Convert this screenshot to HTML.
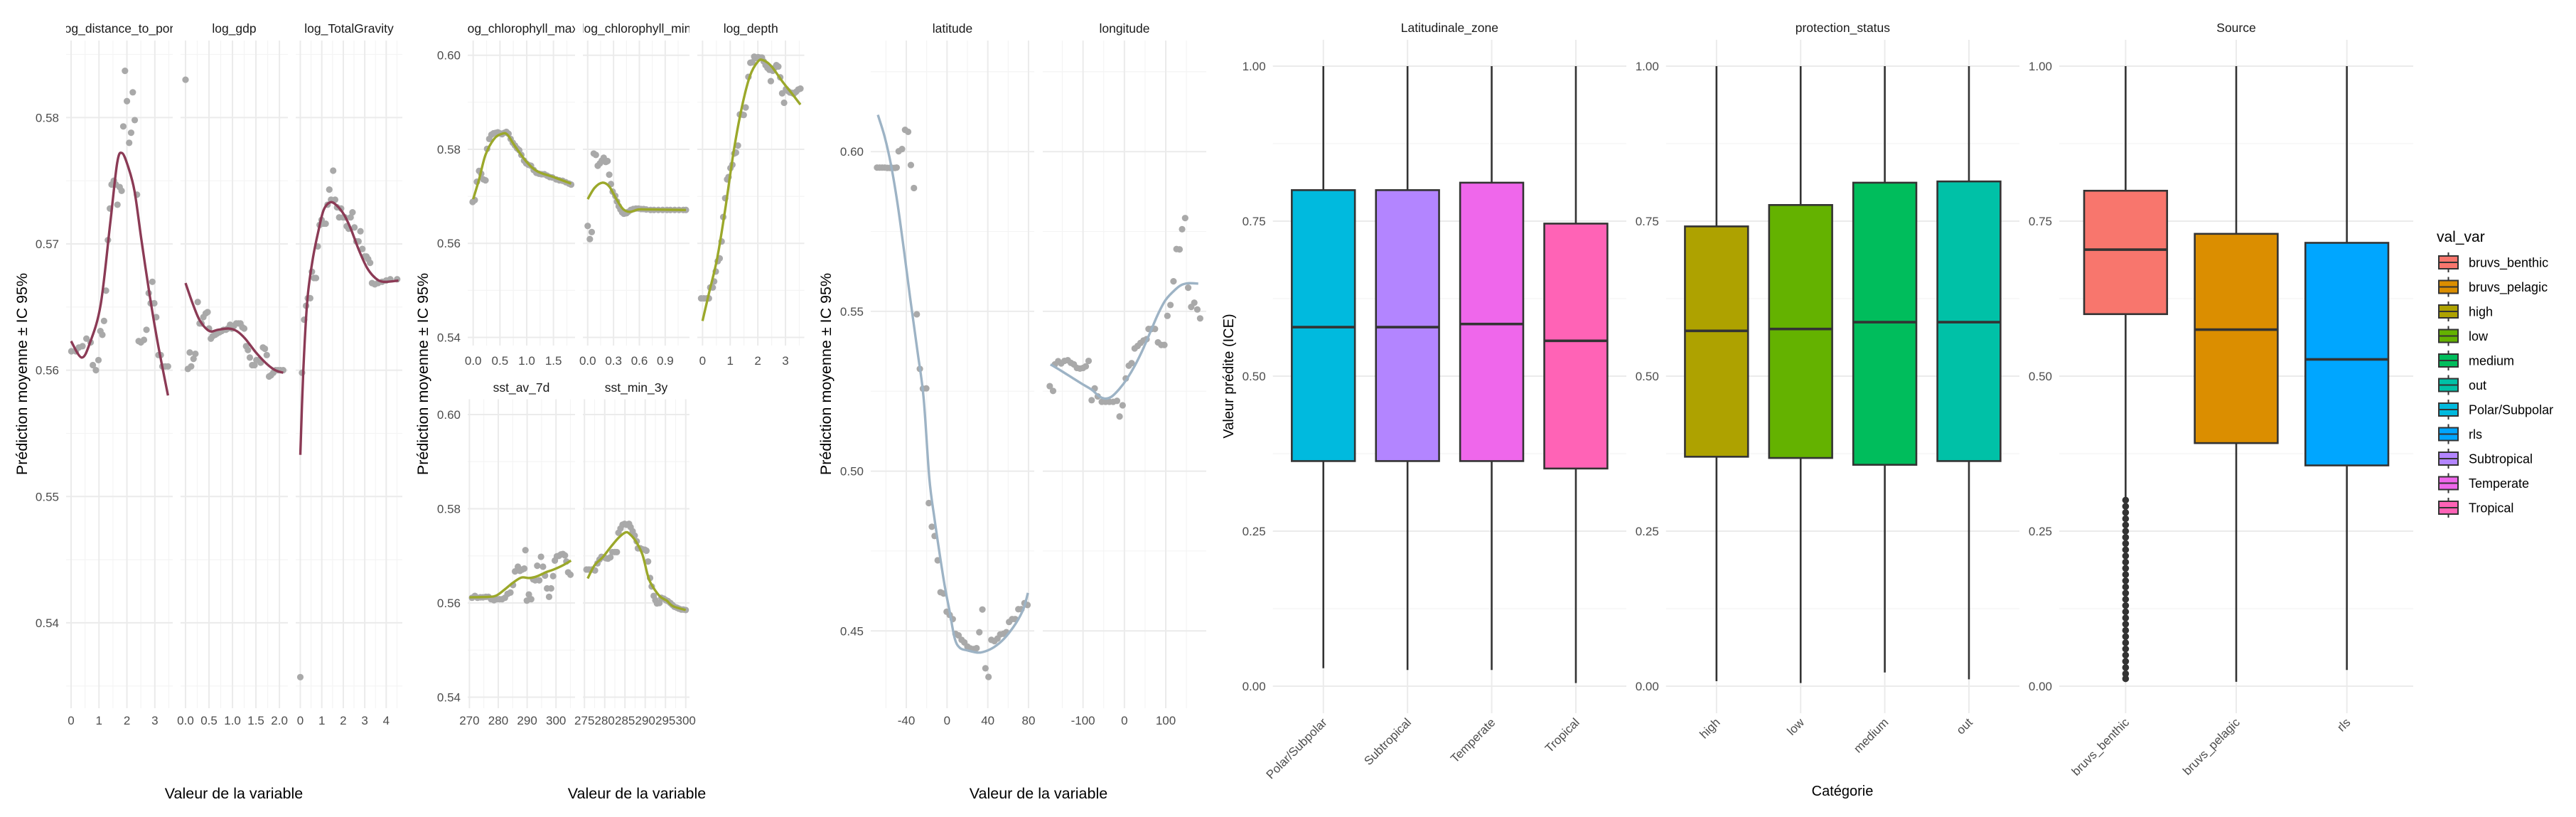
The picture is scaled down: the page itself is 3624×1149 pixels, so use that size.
<!DOCTYPE html>
<html>
<head>
<meta charset="utf-8">
<style>
html,body{margin:0;padding:0;background:#fff;}
svg{display:block;font-family:"Liberation Sans",Arial,sans-serif;}
</style>
</head>
<body>
<svg id="chart" width="3624" height="1149" viewBox="0 0 3624 1149" xmlns="http://www.w3.org/2000/svg">
<rect x="0" y="0" width="3624" height="1149" fill="#ffffff"/>
<g id="layer"></g>
</svg>
<script>
// ---------- DATA ----------
const distPortX = [0.01,0.17,0.28,0.41,0.55,0.70,0.78,0.89,0.98,1.05,1.12,1.18,1.25,1.32,1.39,1.45,1.53,1.60,1.66,1.74,1.81,1.87,1.93,2.00,2.08,2.15,2.21,2.28,2.36,2.42,2.50,2.61,2.70,2.78,2.85,2.91,2.98,3.05,3.13,3.21,3.27,3.37,3.47];
const distPortY = [0.5615,0.5615,0.5618,0.5619,0.5625,0.5622,0.5604,0.5600,0.5608,0.5631,0.5628,0.5639,0.5663,0.5703,0.5728,0.5747,0.5750,0.5747,0.5731,0.5745,0.5742,0.5793,0.5837,0.5813,0.5780,0.5788,0.5820,0.5798,0.5739,0.5623,0.5622,0.5624,0.5632,0.5661,0.5653,0.5670,0.5653,0.5642,0.5612,0.5612,0.5603,0.5603,0.5603];
const distPortLineX = [0,0.38,0.68,1.06,1.40,1.65,1.82,2.03,2.27,2.52,2.81,3.10,3.47];
const distPortLineY = [0.5623,0.5610,0.5622,0.5652,0.5716,0.5764,0.5772,0.5762,0.5742,0.5703,0.5660,0.5622,0.5580];

const gdpX = [0.0,0.05,0.09,0.12,0.17,0.21,0.26,0.30,0.34,0.38,0.43,0.47,0.50,0.54,0.58,0.63,0.67,0.72,0.77,0.81,0.86,0.90,0.95,0.99,1.03,1.08,1.13,1.17,1.21,1.25,1.29,1.33,1.37,1.42,1.47,1.51,1.56,1.60,1.65,1.69,1.73,1.78,1.82,1.87,1.92,1.97,2.02,2.08];
const gdpY = [0.583,0.5601,0.5614,0.5603,0.5609,0.5613,0.5654,0.5637,0.5637,0.5642,0.5645,0.5646,0.5633,0.5625,0.5627,0.5628,0.5629,0.5630,0.5631,0.5632,0.5632,0.5633,0.5636,0.5633,0.5635,0.5637,0.5637,0.5637,0.5634,0.5633,0.5619,0.5616,0.5610,0.5604,0.5604,0.5608,0.5608,0.5606,0.5618,0.5617,0.5612,0.5595,0.5596,0.5598,0.5600,0.5600,0.5600,0.5600];
const gdpLineX = [0,0.16,0.31,0.51,0.69,0.92,1.09,1.27,1.50,1.73,1.91,2.08];
const gdpLineY = [0.5669,0.5652,0.5639,0.5631,0.5632,0.5633,0.5631,0.5625,0.5614,0.5605,0.5600,0.5598];

const gravX = [0,0.08,0.18,0.27,0.35,0.46,0.54,0.64,0.73,0.81,0.90,0.99,1.09,1.18,1.27,1.35,1.43,1.53,1.62,1.71,1.81,1.90,1.99,2.08,2.16,2.25,2.34,2.43,2.52,2.61,2.71,2.80,2.89,2.99,3.08,3.16,3.25,3.34,3.47,3.62,3.81,4.00,4.19,4.51];
const gravY = [0.5357,0.5598,0.5640,0.5651,0.5657,0.5657,0.5678,0.5673,0.5673,0.5698,0.5715,0.5719,0.5716,0.5716,0.5731,0.5743,0.5735,0.5758,0.5735,0.5729,0.5721,0.5728,0.5721,0.5721,0.5714,0.5712,0.5721,0.5725,0.5713,0.5702,0.5702,0.5710,0.5696,0.5690,0.5690,0.5688,0.5685,0.5669,0.5668,0.5669,0.5670,0.5671,0.5672,0.5672];
const gravLineX = [0,0.14,0.33,0.58,0.84,1.09,1.41,1.72,2.04,2.35,2.73,3.11,3.49,3.87,4.57];
const gravLineY = [0.5533,0.5600,0.5656,0.5688,0.5710,0.5727,0.5733,0.5730,0.5723,0.5712,0.5695,0.5681,0.5673,0.5670,0.5671];

const chlMaxX = [-0.01,0.03,0.07,0.11,0.15,0.19,0.23,0.26,0.30,0.34,0.38,0.42,0.46,0.50,0.54,0.58,0.62,0.66,0.70,0.74,0.78,0.82,0.86,0.90,0.95,0.99,1.03,1.08,1.13,1.18,1.23,1.28,1.33,1.38,1.43,1.48,1.55,1.61,1.67,1.73,1.79,1.83];
const chlMaxY = [0.5688,0.5692,0.5731,0.5754,0.5748,0.5736,0.5734,0.5801,0.5822,0.5831,0.5834,0.5835,0.5836,0.5834,0.5832,0.5835,0.5837,0.5833,0.5822,0.5814,0.5808,0.5802,0.5798,0.5788,0.5776,0.5770,0.5767,0.5765,0.5756,0.5750,0.5748,0.5747,0.5747,0.5744,0.5741,0.5740,0.5736,0.5734,0.5733,0.5730,0.5727,0.5725];
const chlMaxLineX = [0,0.11,0.23,0.39,0.54,0.64,0.79,1.0,1.2,1.5,1.83];
const chlMaxLineY = [0.5694,0.5736,0.5788,0.5822,0.5833,0.5831,0.5805,0.5773,0.5753,0.5741,0.5727];

const chlMinX = [0,0.025,0.047,0.07,0.095,0.117,0.142,0.164,0.186,0.21,0.23,0.25,0.27,0.29,0.32,0.34,0.36,0.38,0.40,0.42,0.45,0.47,0.50,0.53,0.56,0.59,0.62,0.65,0.68,0.73,0.77,0.82,0.87,0.92,0.96,1.01,1.06,1.11,1.14];
const chlMinY = [0.5637,0.5609,0.5624,0.5791,0.5788,0.5765,0.5770,0.5776,0.5782,0.5773,0.5775,0.5746,0.5726,0.5710,0.5701,0.5689,0.5679,0.5672,0.5666,0.5663,0.5664,0.5667,0.5671,0.5673,0.5674,0.5674,0.5673,0.5673,0.5672,0.5671,0.5671,0.5671,0.5671,0.5671,0.5671,0.5671,0.5671,0.5671,0.5671];
const chlMinLineX = [0,0.08,0.17,0.25,0.33,0.41,0.49,0.59,0.71,1.14];
const chlMinLineY = [0.5694,0.5718,0.5729,0.5721,0.5695,0.5673,0.5667,0.5672,0.5672,0.5671];

const depthX = [-0.05,0.05,0.15,0.23,0.28,0.37,0.42,0.48,0.55,0.62,0.69,0.75,0.82,0.89,0.94,1.01,1.08,1.15,1.21,1.28,1.35,1.42,1.49,1.56,1.66,1.73,1.80,1.87,1.94,2.01,2.08,2.15,2.21,2.28,2.35,2.42,2.47,2.54,2.60,2.67,2.74,2.81,2.88,2.95,3.02,3.09,3.16,3.23,3.30,3.38,3.46,3.54];
const depthY = [0.5483,0.5483,0.5483,0.5483,0.5506,0.5506,0.5519,0.5540,0.5562,0.5568,0.5604,0.5656,0.5696,0.5736,0.5741,0.5760,0.5767,0.5791,0.5793,0.5808,0.5874,0.5874,0.5873,0.5889,0.5954,0.5984,0.5985,0.5997,0.5994,0.5996,0.5995,0.5995,0.5987,0.5979,0.5973,0.5969,0.5945,0.5967,0.5973,0.5979,0.5976,0.5953,0.5919,0.5899,0.5928,0.5924,0.5921,0.5920,0.5918,0.5922,0.5927,0.5929];
const depthLineX = [0,0.23,0.53,0.82,1.12,1.41,1.71,2.01,2.21,2.5,2.89,3.24,3.54];
const depthLineY = [0.5435,0.5493,0.5568,0.5672,0.5793,0.5886,0.5955,0.5987,0.5989,0.5976,0.5944,0.5918,0.5895];

const sstAvX = [270.9,271.9,272.8,273.8,274.7,275.7,276.6,277.5,278.5,279.4,280.4,281.3,282.3,283.2,284.2,285.1,285.8,286.8,287.5,288.3,289.0,289.4,289.9,290.6,291.4,292.1,292.8,293.5,294.2,294.8,295.5,296.2,296.9,297.6,298.3,299.0,299.6,300.3,301.0,301.7,302.4,303.1,303.6,304.2,305.0];
const sstAvY = [0.5611,0.5615,0.5611,0.5612,0.5612,0.5613,0.5613,0.5608,0.5606,0.5608,0.5608,0.5608,0.5611,0.5619,0.5622,0.5638,0.5667,0.5677,0.5668,0.5671,0.5673,0.5712,0.5605,0.5618,0.5608,0.5650,0.5648,0.5679,0.5648,0.5698,0.5677,0.5658,0.5631,0.5613,0.5631,0.5657,0.5690,0.5699,0.5700,0.5703,0.5704,0.5701,0.5688,0.5665,0.5660];
const sstAvLineX = [270,276.6,279.4,282.3,285.1,288.0,290.8,293.6,296.4,299.2,302.1,305.2];
const sstAvLineY = [0.5612,0.5613,0.5616,0.5629,0.5643,0.5654,0.5653,0.5657,0.5665,0.5671,0.5679,0.5690];

const sstMinX = [275.5,276.1,276.8,277.6,278.2,278.7,279.2,279.8,280.3,280.8,281.4,281.9,282.5,283.0,283.4,283.9,284.4,284.9,285.4,286.0,286.4,286.9,287.4,287.9,288.2,288.8,289.3,289.9,290.3,290.7,291.2,291.6,292.1,292.5,292.9,293.5,294.0,294.6,295.1,295.6,296.2,296.7,297.2,297.8,298.3,298.9,299.4,300.0];
const sstMinY = [0.5671,0.5671,0.5671,0.5669,0.5684,0.5692,0.5698,0.5697,0.5695,0.5694,0.5697,0.5708,0.5708,0.5708,0.5749,0.5758,0.5766,0.5768,0.5766,0.5768,0.5761,0.5752,0.5743,0.5731,0.5716,0.5716,0.5714,0.5713,0.5711,0.5688,0.5653,0.5635,0.5615,0.5606,0.5599,0.5600,0.5611,0.5609,0.5606,0.5604,0.5600,0.5596,0.5592,0.5590,0.5588,0.5586,0.5586,0.5585];
const sstMinLineX = [275.8,277.5,279.5,281.5,283.5,285.2,286.2,287.6,289.3,290.9,292.6,293.9,295.3,296.9,300.0];
const sstMinLineY = [0.5652,0.5680,0.5697,0.5719,0.5739,0.5750,0.5746,0.5732,0.5703,0.5651,0.5625,0.5612,0.5605,0.5593,0.5585];

const latX = [-68.7,-66.2,-63.7,-61.2,-58.7,-56.2,-53.7,-51.2,-49.5,-47.5,-44.2,-41.2,-38.2,-35.5,-32.5,-29.7,-26.7,-23.7,-20.4,-17.9,-14.9,-12.2,-9.2,-6.4,-3.4,-0.4,2.6,5.6,8.3,11.3,14.3,17.0,20.0,23.0,26.0,29.0,31.7,34.7,37.7,40.7,43.5,46.5,49.5,52.2,55.2,58.2,60.9,63.9,66.9,70.0,73.0,76.0,79.0];
const latY = [0.5950,0.5950,0.5950,0.5950,0.5949,0.5949,0.5949,0.5949,0.5950,0.6001,0.6008,0.6068,0.6062,0.5958,0.5886,0.5491,0.5320,0.5258,0.5259,0.4900,0.4826,0.4797,0.4721,0.4621,0.4617,0.4560,0.4550,0.4537,0.4491,0.4486,0.4472,0.4464,0.4451,0.4445,0.4443,0.4446,0.4496,0.4567,0.4383,0.4356,0.4472,0.4468,0.4476,0.4489,0.4491,0.4496,0.4528,0.4537,0.4537,0.4568,0.4568,0.4587,0.4581];
const latLineX = [-67.9,-61.2,-55,-48.7,-42.5,-36.3,-28.8,-23,-17.4,-12.4,-7.4,-2.4,2.6,7.6,12.6,20,31.2,40,48.7,57.5,67.4,74.9,79.4];
const latLineY = [0.6115,0.6046,0.5958,0.5839,0.5696,0.5544,0.5370,0.5229,0.4978,0.4853,0.4744,0.4643,0.4560,0.4476,0.4447,0.4439,0.4432,0.4439,0.4455,0.4481,0.4523,0.4568,0.4619];

const lonX = [-180.4,-172.4,-168.1,-160.1,-152.8,-144.8,-136.8,-129.5,-122.1,-114.7,-107.4,-100,-93.3,-86.5,-79.1,-71.8,-64.4,-54.6,-45.4,-36.2,-27,-17.8,-11.6,-4.3,3.3,10.7,17.5,24.8,32.2,38.9,46.3,53.6,58.5,65.9,73.9,81.2,89.2,96.6,104,111.3,118.7,126,133.4,139.5,146.9,154.2,161.6,169,176.3,183.1];
const lonY = [0.5266,0.5251,0.5334,0.5344,0.5337,0.5345,0.5347,0.5339,0.5334,0.5323,0.5321,0.5323,0.5328,0.5345,0.5222,0.5259,0.5234,0.5217,0.5217,0.5217,0.5217,0.5220,0.5171,0.5206,0.5290,0.5330,0.5338,0.5384,0.5392,0.5401,0.5409,0.5413,0.5445,0.5445,0.5445,0.5403,0.5395,0.5395,0.5486,0.5520,0.5594,0.5695,0.5694,0.5757,0.5792,0.5574,0.5514,0.5527,0.5506,0.5478];
const lonLineX = [-178.6,-152.8,-128.3,-103.7,-79.1,-60.7,-45.4,-30,-11.6,6.8,25.2,43.6,62,80.4,98.8,117.2,135.6,154,178.6];
const lonLineY = [0.5334,0.5314,0.5294,0.5274,0.5255,0.5234,0.5227,0.5234,0.5258,0.5290,0.5330,0.5378,0.5433,0.5489,0.5534,0.5561,0.5581,0.5588,0.5587];

// boxplots
const zoneCats = ['Polar/Subpolar','Subtropical','Temperate','Tropical'];
const zoneLo = [0.029,0.026,0.026,0.005];
const zoneQ1 = [0.363,0.363,0.363,0.351];
const zoneMed = [0.579,0.579,0.584,0.557];
const zoneQ3 = [0.800,0.800,0.812,0.746];
const zoneHi = [1.0,1.0,1.0,1.0];

const protCats = ['high','low','medium','out'];
const protLo = [0.008,0.005,0.022,0.011];
const protQ1 = [0.370,0.368,0.357,0.363];
const protMed = [0.573,0.576,0.587,0.587];
const protQ3 = [0.7415,0.776,0.812,0.814];
const protHi = [1.0,1.0,1.0,1.0];

const srcCats = ['bruvs_benthic','bruvs_pelagic','rls'];
const srcLo = [0.304,0.007,0.026];
const srcQ1 = [0.600,0.392,0.356];
const srcMed = [0.704,0.575,0.527];
const srcQ3 = [0.799,0.7295,0.715];
const srcHi = [1.0,1.0,1.0];
const benthicOutliers = [0.012,0.02,0.03,0.04,0.05,0.06,0.07,0.08,0.09,0.10,0.11,0.12,0.13,0.14,0.15,0.16,0.17,0.18,0.19,0.20,0.21,0.22,0.23,0.24,0.25,0.26,0.27,0.28,0.29,0.30];

const legendLabels = ['bruvs_benthic','bruvs_pelagic','high','low','medium','out','Polar/Subpolar','rls','Subtropical','Temperate','Tropical'];
const legendColors = ['#F8766D','#DB8E00','#AEA200','#64B200','#00BD5C','#00C1A7','#00BADE','#00A6FF','#B385FF','#EF67EB','#FF63B6'];

// ---------- DRAWING ----------
const NS = 'http://www.w3.org/2000/svg';
const layer = document.getElementById('layer');
const defs = document.createElementNS(NS,'defs');
layer.appendChild(defs);
let clipN = 0;

function mk(tag, attrs, parent){
  const el = document.createElementNS(NS, tag);
  for (const k in attrs) el.setAttribute(k, attrs[k]);
  (parent||layer).appendChild(el);
  return el;
}
function txt(s, attrs, parent){
  const t = mk('text', attrs, parent);
  t.textContent = s;
  return t;
}
function smoothPath(pts){
  if (pts.length < 2) return '';
  let d = 'M' + pts[0][0].toFixed(2) + ',' + pts[0][1].toFixed(2);
  for (let i=0;i<pts.length-1;i++){
    const p0 = pts[Math.max(0,i-1)], p1 = pts[i], p2 = pts[i+1], p3 = pts[Math.min(pts.length-1,i+2)];
    const c1x = p1[0] + (p2[0]-p0[0])/6, c1y = p1[1] + (p2[1]-p0[1])/6;
    const c2x = p2[0] - (p3[0]-p1[0])/6, c2y = p2[1] - (p3[1]-p1[1])/6;
    d += ' C' + c1x.toFixed(2)+','+c1y.toFixed(2)+' '+c2x.toFixed(2)+','+c2y.toFixed(2)+' '+p2[0].toFixed(2)+','+p2[1].toFixed(2);
  }
  return d;
}

const TICK = '#4D4D4D', GRID = '#EBEBEB', MINOR = '#F4F4F4';

function scatterFacet(c){
  const g = mk('g', {});
  
  
  const xs = v => c.x0 + (v - c.xd[0])/(c.xd[1]-c.xd[0])*(c.x1-c.x0);
  const ys = v => c.y1 - (v - c.yd[0])/(c.yd[1]-c.yd[0])*(c.y1-c.y0);
  c.yminor.forEach(v => mk('line',{x1:c.x0,x2:c.x1,y1:ys(v),y2:ys(v),stroke:MINOR,'stroke-width':1.2},g));
  c.xminor.forEach(v => mk('line',{x1:xs(v),x2:xs(v),y1:c.y0,y2:c.y1,stroke:MINOR,'stroke-width':1.2},g));
  c.yticks.forEach(v => mk('line',{x1:c.x0,x2:c.x1,y1:ys(v),y2:ys(v),stroke:GRID,'stroke-width':2},g));
  c.xticks.forEach(v => mk('line',{x1:xs(v),x2:xs(v),y1:c.y0,y2:c.y1,stroke:GRID,'stroke-width':2},g));
  const cid = 'clip' + (clipN++);
  const cp = mk('clipPath',{id:cid},defs);
  mk('rect',{x:c.x0,y:c.stripY-20,width:c.x1-c.x0,height:30},cp);
  const st = txt(c.title,{x:(c.x0+c.x1)/2,y:c.stripY+6,'text-anchor':'middle','font-size':17.5,fill:'#1A1A1A','clip-path':'url(#'+cid+')'},g);
  
  
  c.xticks.forEach((v,i) => {
    const t = txt(c.xlabels[i],{x:xs(v),y:c.xlabY+6,'text-anchor':'middle','font-size':17,fill:TICK},g);
    
    
  });
  if (c.ylabels){
    c.yticks.forEach((v,i) => {
      const t = txt(c.ylabels[i],{x:c.x0-10,y:ys(v)+6,'text-anchor':'end','font-size':17,fill:TICK},g);
      
      
    });
  }
  const n = Math.min(c.px.length, c.py.length);
  for (let i=0;i<n;i++){
    const p = mk('circle',{cx:xs(c.px[i]),cy:ys(c.py[i]),r:4.6,fill:'#A9A9A9'},g);
    
    
  }
  const m = Math.min(c.lx.length, c.ly.length);
  const pts = [];
  for (let i=0;i<m;i++) pts.push([xs(c.lx[i]), ys(c.ly[i])]);
  const ln = mk('path',{d:smoothPath(pts),fill:'none',stroke:c.color,'stroke-width':3.4,'stroke-linecap':'butt','stroke-linejoin':'round'},g);
  
  
}

// group 1
const g1Y = {y0:57,y1:996,yd:[0.53324,0.5861],yticks:[0.54,0.55,0.56,0.57,0.58],yminor:[0.535,0.545,0.555,0.565,0.575,0.585],stripY:40,xlabY:1013};
const C1 = '#8B3A55';
scatterFacet(Object.assign({},g1Y,{name:'log-distance-to-port',title:'log_distance_to_port',x0:93,x1:243,xd:[-0.178,3.64],xticks:[0,1,2,3],xlabels:['0','1','2','3'],xminor:[0.5,1.5,2.5,3.5],ylabels:['0.54','0.55','0.56','0.57','0.58'],px:distPortX,py:distPortY,lx:distPortLineX,ly:distPortLineY,color:C1}));
scatterFacet(Object.assign({},g1Y,{name:'log-gdp',title:'log_gdp',x0:254,x1:405,xd:[-0.106,2.18],xticks:[0,0.5,1,1.5,2],xlabels:['0.0','0.5','1.0','1.5','2.0'],xminor:[0.25,0.75,1.25,1.75],px:gdpX,py:gdpY,lx:gdpLineX,ly:gdpLineY,color:C1}));
scatterFacet(Object.assign({},g1Y,{name:'log-total-gravity',title:'log_TotalGravity',x0:416,x1:566,xd:[-0.215,4.75],xticks:[0,1,2,3,4],xlabels:['0','1','2','3','4'],xminor:[0.5,1.5,2.5,3.5,4.5],px:gravX,py:gravY,lx:gravLineX,ly:gravLineY,color:C1}));

// group 2
const C2 = '#9BA82A';
const g2T = {y0:57,y1:486,yd:[0.53826,0.60313],yticks:[0.54,0.56,0.58,0.60],yminor:[0.55,0.57,0.59],stripY:40,xlabY:507};
const g2B = {y0:561.5,y1:996,yd:[0.53766,0.60324],yticks:[0.54,0.56,0.58,0.60],yminor:[0.55,0.57,0.59],stripY:545,xlabY:1013};
const g2YL = ['0.54','0.56','0.58','0.60'];
scatterFacet(Object.assign({},g2T,{name:'log-chlorophyll-max',title:'log_chlorophyll_max',x0:658,x1:809,xd:[-0.102,1.903],xticks:[0,0.5,1,1.5],xlabels:['0.0','0.5','1.0','1.5'],xminor:[0.25,0.75,1.25,1.75],ylabels:g2YL,px:chlMaxX,py:chlMaxY,lx:chlMaxLineX,ly:chlMaxLineY,color:C2}));
scatterFacet(Object.assign({},g2T,{name:'log-chlorophyll-min',title:'log_chlorophyll_min',x0:820,x1:970,xd:[-0.056,1.1815],xticks:[0,0.3,0.6,0.9],xlabels:['0.0','0.3','0.6','0.9'],xminor:[0.15,0.45,0.75,1.05],px:chlMinX,py:chlMinY,lx:chlMinLineX,ly:chlMinLineY,color:C2}));
scatterFacet(Object.assign({},g2T,{name:'log-depth',title:'log_depth',x0:981,x1:1131.5,xd:[-0.188,3.68],xticks:[0,1,2,3],xlabels:['0','1','2','3'],xminor:[0.5,1.5,2.5,3.5],px:depthX,py:depthY,lx:depthLineX,ly:depthLineY,color:C2}));
scatterFacet(Object.assign({},g2B,{name:'sst-av-7d',title:'sst_av_7d',x0:658,x1:809,xd:[269.41,306.6],xticks:[270,280,290,300],xlabels:['270','280','290','300'],xminor:[275,285,295,305],ylabels:g2YL,px:sstAvX,py:sstAvY,lx:sstAvLineX,ly:sstAvLineY,color:C2}));
scatterFacet(Object.assign({},g2B,{name:'sst-min-3y',title:'sst_min_3y',x0:820,x1:970,xd:[274.61,300.93],xticks:[275,280,285,290,295,300],xlabels:['275','280','285','290','295','300'],xminor:[277.5,282.5,287.5,292.5,297.5],px:sstMinX,py:sstMinY,lx:sstMinLineX,ly:sstMinLineY,color:C2}));

// group 3
const C3 = '#9DB3C5';
const g3 = {y0:57,y1:996,yd:[0.42581,0.63476],yticks:[0.45,0.50,0.55,0.60],yminor:[0.475,0.525,0.575,0.625],stripY:40,xlabY:1013};
scatterFacet(Object.assign({},g3,{name:'latitude',title:'latitude',x0:1225,x1:1455,xd:[-74.9,85.6],xticks:[-40,0,40,80],xlabels:['-40','0','40','80'],xminor:[-60,-20,20,60],ylabels:['0.45','0.50','0.55','0.60'],px:latX,py:latY,lx:latLineX,ly:latLineY,color:C3}));
scatterFacet(Object.assign({},g3,{name:'longitude',title:'longitude',x0:1467,x1:1697,xd:[-197.3,197.9],xticks:[-100,0,100],xlabels:['-100','0','100'],xminor:[-150,-50,50,150],px:lonX,py:lonY,lx:lonLineX,ly:lonLineY,color:C3}));

function axisTitle(s, x, y, rot, name, size){
  const t = txt(s,{x:x,y:y,'text-anchor':'middle','dominant-baseline':'central','font-size':size||21.5,fill:'#000',transform: rot ? 'rotate(-90 '+x+' '+y+')' : ''});
  
  
}
axisTitle('Valeur de la variable',329,1116,false,'x-axis-title-group1');
axisTitle('Valeur de la variable',896,1116,false,'x-axis-title-group2');
axisTitle('Valeur de la variable',1461,1116,false,'x-axis-title-group3');
axisTitle('Prédiction moyenne ± IC 95%',31,526,true,'y-axis-title-group1');
axisTitle('Prédiction moyenne ± IC 95%',595,526,true,'y-axis-title-group2');
axisTitle('Prédiction moyenne ± IC 95%',1162,526,true,'y-axis-title-group3');

// ---------- BOXPLOTS ----------
const BY0 = 56, BY1 = 1003, BYD = [-0.0436, 1.0424];
const bys = v => BY1 - (v - BYD[0])/(BYD[1]-BYD[0])*(BY1-BY0);
function boxPanel(c){
  const g = mk('g',{});
  
  
  const n = c.cats.length;
  const step = (c.x1-c.x0)/(n - 1 + 1.2);
  const xs = i => c.x0 + (0.6 + i)*step;
  const hw = step*0.375;
  [0.125,0.375,0.625,0.875].forEach(v => mk('line',{x1:c.x0,x2:c.x1,y1:bys(v),y2:bys(v),stroke:MINOR,'stroke-width':1.2},g));
  [0,0.25,0.5,0.75,1].forEach((v,i) => {
    mk('line',{x1:c.x0,x2:c.x1,y1:bys(v),y2:bys(v),stroke:GRID,'stroke-width':2},g);
    const t = txt(['0.00','0.25','0.50','0.75','1.00'][i],{x:c.x0-10,y:bys(v)+6,'text-anchor':'end','font-size':17,fill:TICK},g);
    
    
  });
  c.cats.forEach((cat,i) => mk('line',{x1:xs(i),x2:xs(i),y1:BY0,y2:BY1,stroke:GRID,'stroke-width':2},g));
  const st = txt(c.title,{x:(c.x0+c.x1)/2,y:45,'text-anchor':'middle','font-size':17.5,fill:'#1A1A1A'},g);
  
  
  c.cats.forEach((cat,i) => {
    const x = xs(i);
    const wh = mk('line',{x1:x,x2:x,y1:bys(c.hi[i]),y2:bys(c.lo[i]),stroke:'#333333','stroke-width':2.6},g);
    
    
    const b = mk('rect',{x:x-hw,y:bys(c.q3[i]),width:2*hw,height:bys(c.q1[i])-bys(c.q3[i]),fill:c.colors[i],stroke:'#333333','stroke-width':2.6},g);
    
    
    const md = mk('line',{x1:x-hw,x2:x+hw,y1:bys(c.med[i]),y2:bys(c.med[i]),stroke:'#333333','stroke-width':3.6},g);
    
    
    if (c.outliers && c.outliers[i]){
      c.outliers[i].forEach(v => {
        const o = mk('circle',{cx:x,cy:bys(v),r:4.8,fill:'#333333'},g);
        
        
      });
    }
    const lx = x + 6, ly = BY1 + 14;
    const t = txt(cat,{x:lx,y:ly,'text-anchor':'end','font-size':17,fill:TICK,transform:'rotate(-45 '+lx+' '+ly+')'},g);
    
    
  });
}
boxPanel({name:'latitudinale-zone',title:'Latitudinale_zone',x0:1790.7,x1:2288,cats:zoneCats,lo:zoneLo,q1:zoneQ1,med:zoneMed,q3:zoneQ3,hi:zoneHi,colors:['#00BADE','#B385FF','#EF67EB','#FF63B6']});
boxPanel({name:'protection-status',title:'protection_status',x0:2343.8,x1:2841,cats:protCats,lo:protLo,q1:protQ1,med:protMed,q3:protQ3,hi:protHi,colors:['#AEA200','#64B200','#00BD5C','#00C1A7']});
boxPanel({name:'source',title:'Source',x0:2897,x1:3395,cats:srcCats,lo:srcLo,q1:srcQ1,med:srcMed,q3:srcQ3,hi:srcHi,colors:['#F8766D','#DB8E00','#00A6FF'],outliers:[benthicOutliers,null,null]});
axisTitle('Valeur prédite (ICE)',1729,529,true,'y-axis-title-boxplots',20);
axisTitle('Catégorie',2592,1113,false,'x-axis-title-boxplots',20);

// ---------- LEGEND ----------
const lg = mk('g',{});


const lt = txt('val_var',{x:3428,y:340,'font-size':21,fill:'#000'},lg);


legendLabels.forEach((lab,i) => {
  const cy = 369 + 34.5*i;
  const e = mk('g',{},lg);
  
  
  mk('line',{x1:3444.5,x2:3444.5,y1:cy-14,y2:cy+14,stroke:'#333333','stroke-width':2},e);
  mk('rect',{x:3431,y:cy-9,width:27,height:18,fill:legendColors[i],stroke:'#333333','stroke-width':2},e);
  mk('line',{x1:3431,x2:3458,y1:cy,y2:cy,stroke:'#333333','stroke-width':2},e);
  const t = txt(lab,{x:3473,y:cy+6.5,'font-size':18,fill:'#000'},e);
  
  
});
</script>
</body>
</html>
